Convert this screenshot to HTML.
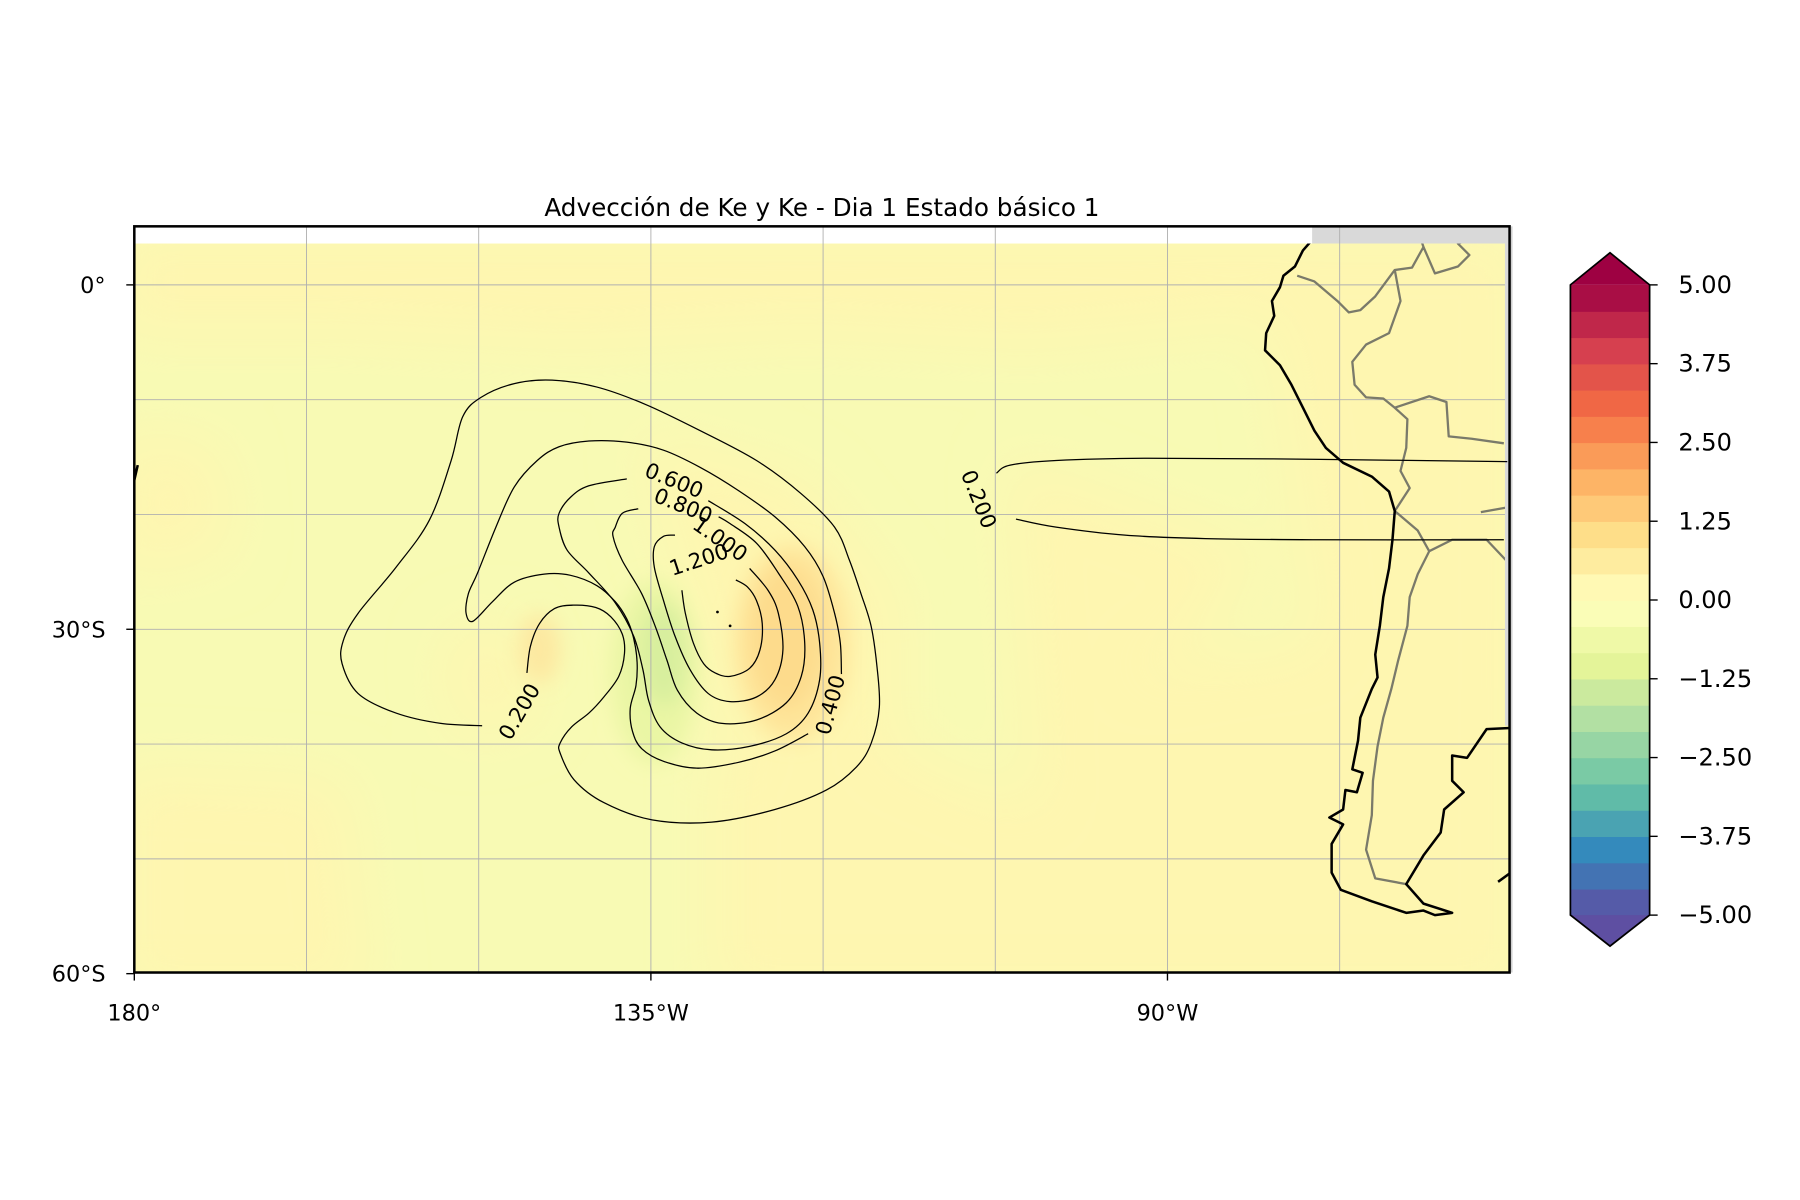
<!DOCTYPE html>
<html><head><meta charset="utf-8"><style>
html,body{margin:0;padding:0;background:#fff}
svg{display:block}
text{font-family:"DejaVu Sans","Liberation Sans",sans-serif;fill:#000}
</style></head><body>
<svg id="fig" width="1800" height="1200" viewBox="0 0 1568 1045" xmlns="http://www.w3.org/2000/svg">
<defs>
<clipPath id="clipData"><rect x="117" y="212" width="1198" height="635"/></clipPath>
<filter id="blur" x="-50%" y="-50%" width="200%" height="200%"><feGaussianBlur stdDeviation="9"/></filter>
<filter id="blur2" x="-50%" y="-50%" width="200%" height="200%"><feGaussianBlur stdDeviation="25"/></filter>
</defs>
<text x="716" y="188" font-size="21.5" text-anchor="middle">Advección de Ke y Ke - Dia 1 Estado básico 1</text>
<g id="map">
  <rect x="117" y="197" width="1198" height="650" fill="#fff"/>
  <rect x="1143" y="197" width="172" height="15" fill="#d9d9d9"/>
  <g clip-path="url(#clipData)">
    <rect x="117" y="212" width="1198" height="635" fill="#f8fab4"/>
    <g filter="url(#blur2)" fill="#fef6b0">
      <path d="M100 200 L1330 200 L1330 260 L900 300 L700 290 L500 300 L300 290 L100 290Z"/>
      <path d="M100 380 L190 390 L200 480 L100 500Z"/>
      <path d="M100 670 L300 680 L320 870 L100 870Z"/>
      <path d="M620 660 L760 640 L900 700 L1330 700 L1330 870 L620 870Z"/>
      <path d="M880 400 L1100 480 L1040 560 L980 590 L1060 570 L1330 540 L1330 720 L900 700Z"/>
      <path d="M1100 230 L1330 230 L1330 600 L1150 600Z"/>
      <path d="M560 380 L700 420 L780 520 L780 650 L640 660Z"/>
      <path d="M390 560 L440 540 L470 620 L400 640Z"/>
    </g>
    <g filter="url(#blur)">
      <ellipse cx="690" cy="560" rx="50" ry="85" fill="#fee59a"/>
      <ellipse cx="685" cy="555" rx="32" ry="62" fill="#fddb8c"/>
      <ellipse cx="470" cy="565" rx="18" ry="30" fill="#fde8a0"/>
      <ellipse cx="570" cy="585" rx="38" ry="80" fill="#eaf6a4"/>
      <ellipse cx="578" cy="570" rx="22" ry="45" fill="#d8ef9e"/>
    </g>
  </g>
  <g id="grid" stroke="#b0b0b0" stroke-width="0.8"></g>
  <g id="coast" fill="none" clip-path="url(#clipData)">
    <path stroke="#7a7a6a" stroke-width="2" stroke-linejoin="round" d="M1215,445 L1235,462 L1245,480 L1235,500 L1228,520 L1226,545 L1218,575 L1212,600 L1205,625 L1200,650 L1196,680 L1195,710 L1190,740 L1198,765 L1225,770 M1215,445 L1228,425 L1220,410 L1225,390 L1226,365 L1215,355 L1205,347 L1190,346 L1180,335 L1178,315 L1190,300 L1210,290 L1220,262 L1215,235 M1215,355 L1245,345 L1260,350 L1262,380 L1282,382 L1310,386 M1245,480 L1265,470 L1295,470 L1312,488 M1290,446 L1312,442 M1130,240 L1145,245 L1165,262 L1175,272 L1185,270 L1198,258 L1215,235 L1230,233 L1240,215 L1235,200 M1240,215 L1250,238 L1270,232 L1280,222 L1270,212 L1290,205 L1312,198"/>
    <path stroke="#000" stroke-width="2.2" stroke-linejoin="round" d="M1140,200 L1142,210 L1135,218 L1128,232 L1118,240 L1115,250 L1108,262 L1110,275 L1103,290 L1102,305 L1115,318 L1125,335 L1135,355 L1145,375 L1155,390 L1170,403 L1195,415 L1210,428 L1215,445 L1213,470 L1210,495 L1205,520 L1202,545 L1198,570 L1200,590 L1195,600 L1185,625 L1183,645 L1178,670 L1187,673 L1182,690 L1172,688 L1170,705 L1158,712 L1170,718 L1160,735 L1160,760 L1168,775 L1195,785 L1225,795 L1240,793 L1250,797 L1265,795 L1240,787 L1225,770 L1240,745 L1255,725 L1258,705 L1275,690 L1265,680 L1265,658 L1278,660 L1295,635 L1316,634 M1305,768 L1316,760 M117,418 L120,405"/>
  </g>
  <rect x="1311" y="212" width="4" height="420" fill="#d9d9d9"/>
  <g id="contours" clip-path="url(#clipData)"></g>
  <rect x="117" y="197" width="1198" height="650" fill="none" stroke="#000" stroke-width="2.2"/>
</g>
<g id="axes"></g>
<g id="cbar"></g>
</svg>
<script>
// ---- data ----
const lonTicks = [-180, -135, -90];
const lonTickLabels = ["180°", "135°W", "90°W"];
const latTicks = [0, -30, -60];
const latTickLabels = ["0°", "30°S", "60°S"];
const gridLons = [-165, -150, -135, -120, -105, -90, -75, -60];
const gridLats = [0, -10, -20, -30, -40, -50];
const cbarTicks = [-5, -3.75, -2.5, -1.25, 0, 1.25, 2.5, 3.75, 5];
const cbarTickLabels = ["\u22125.00", "\u22123.75", "\u22122.50", "\u22121.25", "0.00", "1.25", "2.50", "3.75", "5.00"];
const cbarLevelsCount = 24;

const contour020a = [[-149.7,-38.4],[-153.3,-38.2],[-157.2,-37.3],[-160.5,-35.6],[-161.9,-33.0],[-161.8,-31.0],[-160.5,-28.6],[-157.2,-24.6],[-154.3,-20.5],[-152.4,-15.3],[-151.4,-11.5],[-149.8,-9.8],[-146.9,-8.6],[-143.6,-8.3],[-139.7,-8.9],[-135.5,-10.4],[-130.7,-12.7],[-125.8,-15.3],[-121.9,-18.2],[-119.0,-21.1],[-117.7,-24.0],[-116.7,-26.9],[-115.8,-29.8],[-115.3,-33.3],[-115.1,-36.8],[-115.8,-39.9],[-117.1,-42.0],[-119.7,-44.0],[-124.2,-45.7],[-129.7,-46.8],[-134.9,-46.6],[-139.1,-45.1],[-141.7,-43.1],[-142.9,-40.8],[-142.9,-39.9],[-141.9,-38.5],[-140.4,-37.3],[-139.1,-35.9],[-137.8,-34.1],[-137.3,-32.1],[-137.5,-30.4],[-138.5,-28.9],[-139.8,-28.1],[-141.8,-27.9],[-143.4,-28.2],[-144.7,-29.5],[-145.5,-31.5],[-145.8,-33.8]];
const contour040 = [[-118.4,-33.9],[-118.5,-31.2],[-119.0,-28.6],[-120.0,-25.4],[-121.6,-22.8],[-124.2,-20.2],[-127.4,-17.9],[-130.7,-15.9],[-133.9,-14.4],[-137.1,-13.7],[-140.4,-13.6],[-143.0,-14.1],[-144.9,-15.3],[-146.9,-17.6],[-148.5,-21.1],[-150.1,-25.1],[-150.9,-26.9],[-151.1,-28.6],[-150.5,-29.3],[-148.8,-27.6],[-146.9,-25.9],[-144.3,-25.2],[-142.0,-25.3],[-139.7,-26.2],[-138.1,-27.6],[-137.1,-29.1],[-136.5,-30.8],[-136.2,-32.9],[-136.3,-34.9],[-136.8,-36.9],[-136.6,-38.9],[-135.8,-40.4],[-133.9,-41.5],[-131.0,-42.1],[-127.4,-41.6],[-124.2,-40.6],[-121.3,-39.1]];
const contour060 = [[-130.0,-18.8],[-126.8,-20.8],[-124.2,-23.1],[-122.2,-25.7],[-120.9,-28.3],[-120.3,-31.2],[-120.3,-34.4],[-121.3,-37.3],[-123.2,-39.1],[-126.4,-40.2],[-129.7,-40.5],[-132.3,-39.9],[-134.2,-38.5],[-135.2,-36.2],[-135.7,-33.5],[-136.5,-30.6],[-138.1,-27.7],[-140.4,-25.1],[-142.3,-23.1],[-143.0,-21.1],[-143.0,-19.9],[-142.0,-18.5],[-140.4,-17.5],[-137.1,-16.9]];
const contour080 = [[-136.1,-19.5],[-137.5,-19.9],[-138.1,-21.1],[-138.3,-21.9],[-137.5,-24.0],[-135.8,-26.9],[-134.6,-29.8],[-133.6,-32.7],[-132.7,-35.3],[-131.0,-37.3],[-128.8,-38.2],[-125.8,-37.9],[-123.2,-36.4],[-121.9,-34.1],[-121.6,-31.2],[-122.2,-28.0],[-123.9,-25.1],[-125.8,-22.5],[-128.1,-20.8],[-129.1,-20.2]];
const contour100 = [[-132.9,-21.8],[-133.9,-21.9],[-134.7,-22.8],[-134.7,-24.6],[-133.9,-27.5],[-132.9,-30.6],[-131.6,-33.5],[-130.0,-35.6],[-128.1,-36.3],[-125.8,-35.9],[-124.2,-34.4],[-123.5,-31.8],[-123.9,-28.6],[-124.8,-26.6],[-126.4,-24.7]];
const contour120 = [[-132.3,-26.6],[-132.0,-28.6],[-131.3,-31.2],[-130.4,-33.0],[-129.4,-33.8],[-128.1,-34.1],[-126.4,-33.4],[-125.5,-31.8],[-125.3,-29.5],[-125.8,-27.5],[-126.6,-26.3],[-127.6,-25.7]];
const contour020b = [[-104.9,-16.4],[-103.7,-15.7],[-99.7,-15.3],[-91.7,-15.1],[-76.7,-15.2],[-60.4,-15.4]];
const contour020c = [[-103.2,-20.4],[-99.7,-21.1],[-93.7,-21.8],[-86.7,-22.1],[-76.7,-22.2],[-60.7,-22.2]];
const contour140dots = [[-129.2,-28.5],[-128.1,-29.7]];
const contourLabels = ["0.200","0.400","0.600","0.800","1.000","1.200","0.200"];
const labelLons = [-146.4,-119.3,-133.0,-132.2,-129.0,-130.8,-106.5];
const labelLats = [-37.2,-36.6,-17.1,-19.3,-22.2,-24.0,-18.7];
const labelRot = [-60,-75,22,22,35,-18,68];

// ---- axis functions ----
const X = lon => 117 + (lon + 180) * 10;
const Y = lat => 248 - lat * 10;
const NS = "http://www.w3.org/2000/svg";
function mk(tag, attrs, parent){ const e=document.createElementNS(NS,tag); for(const k in attrs) e.setAttribute(k,attrs[k]); parent.appendChild(e); return e; }

// grid
const grid = document.getElementById('grid');
gridLons.forEach(l => { const e = mk('line',{x1:X(l),x2:X(l),y1:197,y2:847},grid);

 });
gridLats.forEach(l => { const e = mk('line',{x1:117,x2:1315,y1:Y(l),y2:Y(l)},grid);

 });

// contours
const cg = document.getElementById('contours');
function pathOf(pts, closed){
  const P = pts.map(p=>[X(p[0]),Y(p[1])]);
  let d = 'M'+P[0][0].toFixed(1)+','+P[0][1].toFixed(1);
  for(let i=1;i<P.length;i++){
    const p0=P[Math.max(i-2,0)], p1=P[i-1], p2=P[i], p3=P[Math.min(i+1,P.length-1)];
    const c1=[p1[0]+(p2[0]-p0[0])/6, p1[1]+(p2[1]-p0[1])/6];
    const c2=[p2[0]-(p3[0]-p1[0])/6, p2[1]-(p3[1]-p1[1])/6];
    d += ` C${c1[0].toFixed(1)},${c1[1].toFixed(1)} ${c2[0].toFixed(1)},${c2[1].toFixed(1)} ${p2[0].toFixed(1)},${p2[1].toFixed(1)}`;
  }
  return closed? d+'Z':d;
}
const lines = [[contour020a,false,'contour-0-200'],[contour040,false,'contour-0-400'],[contour060,false,'contour-0-600'],[contour080,false,'contour-0-800'],[contour100,false,'contour-1-000'],[contour120,false,'contour-1-200'],[contour020b,false,'contour-0-200-east-north'],[contour020c,false,'contour-0-200-east-south']];
lines.forEach(c => { const e = mk('path',{d:pathOf(c[0],c[1]),fill:'none',stroke:'#000','stroke-width':1.1,'stroke-linejoin':'round'},cg);

 });
contour140dots.forEach(p => { const e = mk('circle',{cx:X(p[0]),cy:Y(p[1]),r:1.2,fill:'#000'},cg);

 });
contourLabels.forEach((t,i) => { const x=X(labelLons[i]), y=Y(labelLats[i]);
const e = mk('text',{x:x,y:y,'font-size':18.5,'text-anchor':'middle','dominant-baseline':'central',transform:`rotate(${labelRot[i]} ${x} ${y})`},cg);
e.textContent = t;

 });

// axes ticks & labels
const ax = document.getElementById('axes');
latTicks.forEach((l,i) => { mk('line',{x1:110,x2:117,y1:Y(l),y2:Y(l),stroke:'#000','stroke-width':1.2},ax);
const t = mk('text',{x:92,y:Y(l)+7,'font-size':19.5,'text-anchor':'end'},ax);
t.textContent = latTickLabels[i];

 });
lonTicks.forEach((l,i) => { mk('line',{x1:X(l),x2:X(l),y1:847,y2:854,stroke:'#000','stroke-width':1.2},ax);
const t = mk('text',{x:X(l),y:889,'font-size':19.5,'text-anchor':'middle'},ax);
t.textContent = lonTickLabels[i];

 });

// colorbar
const cb = document.getElementById('cbar');
const spectral = ['#9e0142','#d53e4f','#f46d43','#fdae61','#fee08b','#ffffbf','#e6f598','#abdda4','#66c2a5','#3288bd','#5e4fa2'].reverse();
function hex(c){return [1,3,5].map(i=>parseInt(c.substr(i,2),16));}
function cmap(t){ const s=t*(spectral.length-1); const i=Math.min(Math.floor(s),spectral.length-2); const f=s-i; const a=hex(spectral[i]), b=hex(spectral[i+1]); return 'rgb('+a.map((v,k)=>Math.round(v+(b[k]-v)*f)).join(',')+')'; }
const cbTop=248, cbBot=797, cbX0=1368, cbX1=1437, vmin=-5, vmax=5;
const CY = v => cbBot - (v - vmin)/(vmax - vmin)*(cbBot-cbTop);
const step = (vmax-vmin)/cbarLevelsCount;
for(let i=0;i<cbarLevelsCount;i++){ const v0=vmin+i*step, v1=v0+step;
const r = mk('rect',{x:cbX0,y:CY(v1),width:cbX1-cbX0,height:CY(v0)-CY(v1)+0.6,fill:cmap((i+0.5)/cbarLevelsCount)},cb);

 }
const tipT = mk('path',{d:`M${cbX0},${cbTop} L${(cbX0+cbX1)/2},220 L${cbX1},${cbTop}Z`,fill:'#9e0142'},cb);


const tipB = mk('path',{d:`M${cbX0},${cbBot} L${(cbX0+cbX1)/2},824 L${cbX1},${cbBot}Z`,fill:'#5e4fa2'},cb);


mk('path',{d:`M${cbX0},${cbTop} L${(cbX0+cbX1)/2},220 L${cbX1},${cbTop} L${cbX1},${cbBot} L${(cbX0+cbX1)/2},824 L${cbX0},${cbBot}Z`,fill:'none',stroke:'#000','stroke-width':1.5},cb);
cbarTicks.forEach((v,i) => { mk('line',{x1:cbX1,x2:cbX1+7,y1:CY(v),y2:CY(v),stroke:'#000','stroke-width':1.2},cb);
const t = mk('text',{x:1462,y:CY(v)+7,'font-size':21},cb);
t.textContent = cbarTickLabels[i];

 });
</script>
</body></html>
